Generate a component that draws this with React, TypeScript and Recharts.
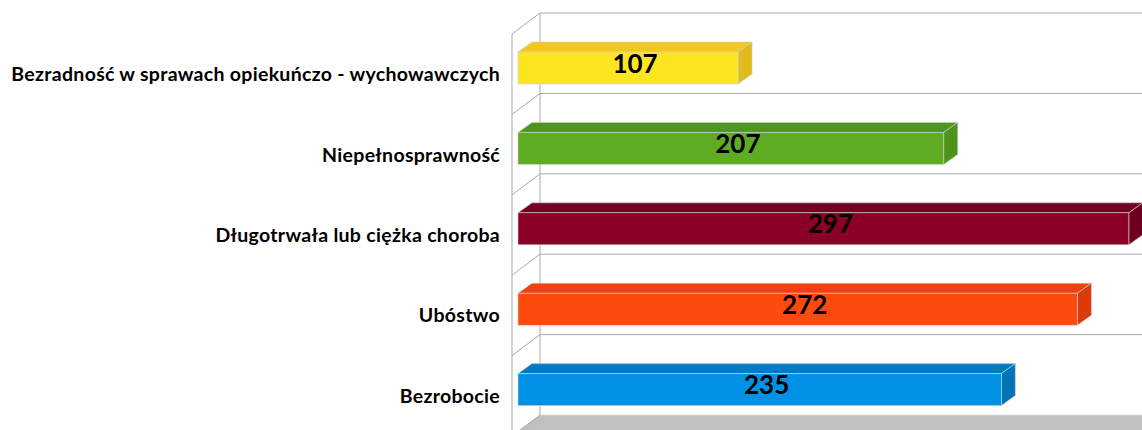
import { Bar, BarChart, CartesianGrid, LabelList, XAxis, YAxis } from 'recharts'

const categories = [
  'Bezradność w sprawach opiekuńczo - wychowawczych',
  'Niepełnosprawność',
  'Długotrwała lub ciężka choroba',
  'Ubóstwo',
  'Bezrobocie',
]
const values = [107, 207, 297, 272, 235]
const xDomain = [0, 300]

const frontColors = ['#FDE61F', '#5FAB22', '#8A0027', '#FD4A0D', '#0091E4']
const topColors = ['#F2C71F', '#51961C', '#760021', '#F23F0B', '#007BC3']
const sideColors = ['#DFBB1C', '#4E921B', '#6E001F', '#DC3A0A', '#0074B9']

const data = categories.map((name, i) => ({ name, value: values[i], idx: i }))

const DX = 14
const DY = 10
const GRID = '#A9A9A9'
const FONT = 'Lato, "Open Sans", sans-serif'

function Box3D(props: any) {
  const { x, y, width, height, payload } = props
  const i = payload?.idx ?? 0
  const w = Math.max(width, 0)
  const top = `${x},${y} ${x + DX},${y - DY} ${x + w + DX},${y - DY} ${x + w},${y}`
  const side = `${x + w},${y} ${x + w + DX},${y - DY} ${x + w + DX},${y + height - DY} ${x + w},${y + height}`
  return (
    <g>
      <polygon points={top} fill={topColors[i]} stroke="#d0d0d0" strokeWidth={0.6} />
      <polygon points={side} fill={sideColors[i]} stroke="#d0d0d0" strokeWidth={0.6} />
      <rect x={x} y={y} width={w} height={height} fill={frontColors[i]} stroke="#d0d0d0" strokeWidth={0.6} />
    </g>
  )
}

function ValueLabel(props: any) {
  const { x, y, width, height, value } = props
  return (
    <text
      x={x + (width + DX) / 2}
      y={y - DY / 2 + height / 2 + 9.5}
      textAnchor="middle"
      fontFamily={FONT}
      fontWeight={700}
      fontSize={26}
      fill="#000"
    >
      {value}
    </text>
  )
}

function CategoryTick(props: any) {
  const { y, payload } = props
  return (
    <text
      x={500}
      y={y + 13}
      textAnchor="end"
      fontFamily={FONT}
      fontWeight={700}
      fontSize={19.5}
      letterSpacing={0.3}
      fill="#000"
    >
      {payload.value}
    </text>
  )
}

function GridLine(p: any) {
  const { x1, x2, y1, index } = p
  const bandH = (p.height ?? 402) / categories.length
  const bx = x1 + 22
  const by = y1 - 15
  const fx = x1 - 6
  const fy = y1 + 6
  const last = index === categories.length
  return (
    <g key={`g-${index}`}>
      {last && (
        <polygon points={`${fx},${fy} ${bx},${by} ${x2 + 40},${by} ${x2 + 40},${fy + 20} ${fx},${fy + 20}`} fill="#C0C0C0" />
      )}
      <line x1={fx} y1={fy} x2={bx} y2={by} stroke={GRID} strokeWidth={1} />
      <line x1={bx} y1={by} x2={x2 + 40} y2={by} stroke={last ? '#DADADA' : GRID} strokeWidth={1} />
      {!last && (
        <>
          <line x1={bx} y1={by} x2={bx} y2={by + bandH} stroke={GRID} strokeWidth={1} />
          <line x1={fx} y1={fy} x2={fx} y2={fy + bandH} stroke={GRID} strokeWidth={1} />
        </>
      )}
    </g>
  )
}

export default function App() {
  return (
    <div style={{ width: 1142, height: 430, background: '#fff' }}>
      <style>{'body{margin:0}'}</style>
      <BarChart
        width={1142}
        height={430}
        data={data}
        layout="vertical"
        margin={{ top: 28, right: 7, bottom: 0, left: 0 }}
      >
        <CartesianGrid
          vertical={false}
          horizontalCoordinatesGenerator={({ offset }: any) =>
            Array.from({ length: categories.length + 1 }, (_, k) => offset.top + (k * offset.height) / categories.length)
          }
          horizontal={GridLine}
        />
        <XAxis type="number" domain={xDomain} hide />
        <YAxis
          type="category"
          dataKey="name"
          width={518}
          axisLine={false}
          tickLine={false}
          interval={0}
          tick={CategoryTick}
        />
        <Bar dataKey="value" barSize={32} shape={Box3D} isAnimationActive={false}>
          <LabelList dataKey="value" content={ValueLabel} />
        </Bar>
      </BarChart>
    </div>
  )
}
